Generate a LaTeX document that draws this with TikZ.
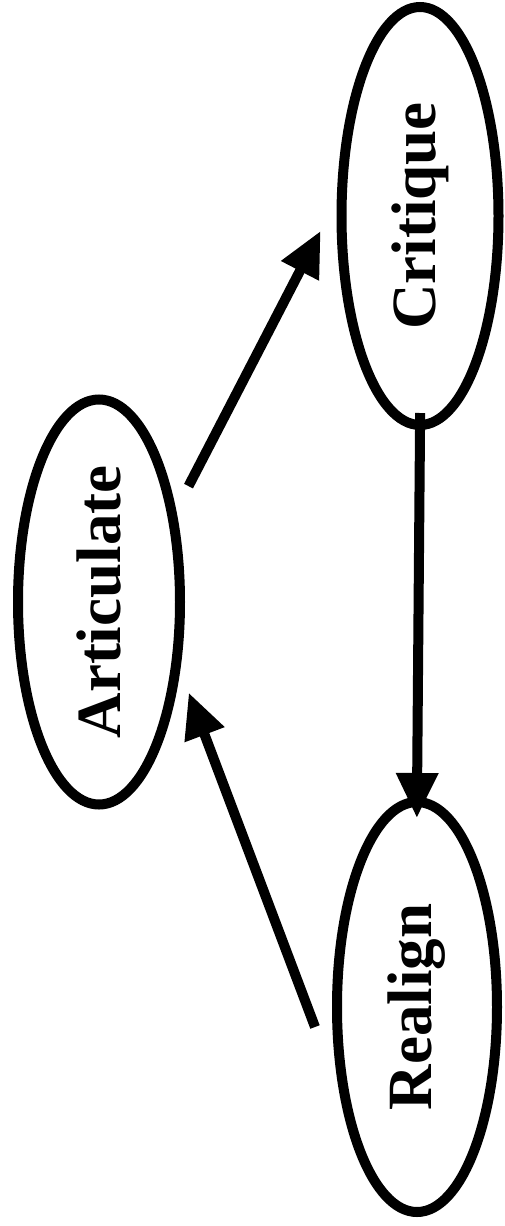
\documentclass[tikz,border=0pt]{standalone}
\usepackage{fontspec}
\setmainfont{Liberation Serif}
\usetikzlibrary{arrows.meta,shapes.geometric}
\begin{document}
\begin{tikzpicture}[x=1pt, y=1pt,
    stage/.style={ellipse, draw, line width=10pt, inner sep=0pt,
        font=\fontsize{63}{63}\selectfont\bfseries},
    flow/.style={line width=10pt, -{Triangle[length=45pt, width=40pt]}}]
    \useasboundingbox (0, 0) rectangle (504, -1226);

    % Stufen
    \node[stage, minimum width=162pt, minimum height=405pt] (art) at (99, -602) {\rotatebox{90}{Articulate}};
    \node[stage, minimum width=157pt, minimum height=418pt] (cri) at (420, -216) {\rotatebox{90}{Critique}};
    \node[stage, minimum width=160pt, minimum height=410pt] (rea) at (417, -1007) {\rotatebox{90}{Realign}};

    % Pfeile
    \draw[flow, shorten <=27pt, shorten >=35pt] (art.50) -- (cri.169);
    \draw[flow, shorten <=-17pt, shorten >=-21pt] (cri.south) -- (rea.north);
    \draw[flow, shorten <=68pt, shorten >=24pt] (rea.227) -- (art.320);
\end{tikzpicture}
\end{document}
